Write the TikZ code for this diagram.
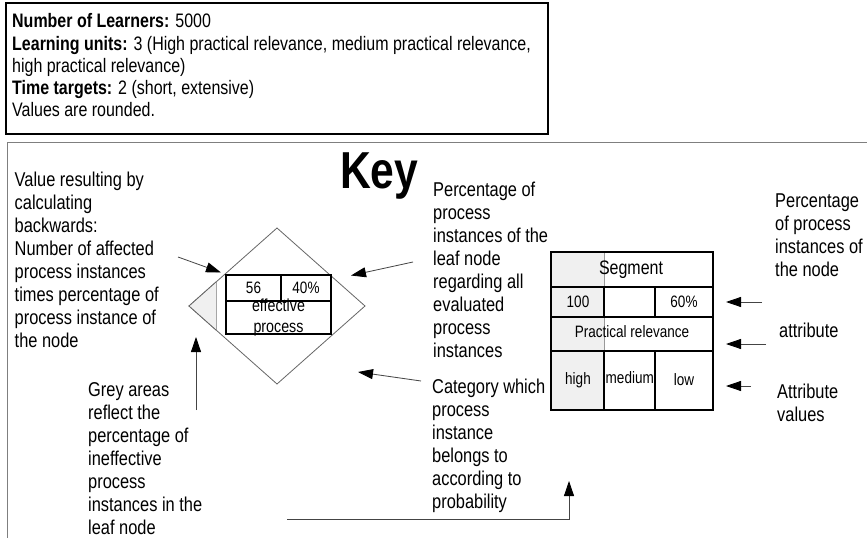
\documentclass[tikz,border=0pt]{standalone}
\usepackage{fontspec}
\setmainfont{Liberation Sans}[FakeStretch=0.82]
\usetikzlibrary{arrows.meta}

\definecolor{greyfill}{HTML}{F0F0F0}
\definecolor{frame}{HTML}{7F7F7F}
\definecolor{wire}{HTML}{444444}
\definecolor{edge}{HTML}{666666}

\tikzset{
  info/.style={anchor=north west, inner sep=0pt, align=left,
    font=\fontsize{19.5bp}{22.2bp}\selectfont},
  note/.style={anchor=north west, inner sep=0pt, align=left,
    font=\fontsize{20bp}{23bp}\selectfont},
  celltext/.style={inner sep=0pt, font=\fontsize{16.5bp}{19bp}\selectfont},
  grid/.style={draw=black, line width=1.3bp},
  thin grid/.style={draw=black!40, line width=0.6bp},
  pointer/.style={draw=wire, line width=0.8bp,
    -{Triangle[length=15bp, width=10bp, color=black]}},
}

\begin{document}
\begin{tikzpicture}[x=1bp, y=-1bp]
\useasboundingbox (0,0) rectangle (867,538);
\fill[white] (0,0) rectangle (867,538);

% ---- summary box ----
\draw[black, line width=1.6bp] (6,3) rectangle (548,134);
\node[info] (summary) at (12,13.5)
  {\textbf{Number of Learners:} 5000\\
   \textbf{Learning units:} 3 (High practical relevance, medium practical relevance,\\
   high practical relevance)\\
   \textbf{Time targets:} 2 (short, extensive)\\
   Values are rounded.};

% ---- legend frame ----
\draw[frame, line width=1bp] (867,143) -- (7,143) -- (7,538);
\node[anchor=base west, inner sep=0pt,
  font=\fontsize{52bp}{52bp}\selectfont\bfseries] (key) at (340,189) {Key};

% ---- leaf node (diamond) ----
\coordinate (dtop) at (277,228);
\coordinate (dright) at (365,306);
\coordinate (dbottom) at (277,384);
\coordinate (dleft) at (189,306);
\filldraw[fill=white, draw=edge, line width=0.8bp]
  (dtop) -- (dright) -- (dbottom) -- (dleft) -- cycle;
% grey share of ineffective instances
\fill[greyfill] (dleft) -- (216,282) -- (216,330) -- cycle;
\draw[black!35, line width=0.8bp] (216,282) -- (216,330);
\draw[edge, line width=0.8bp] (216,282) -- (dleft) -- (216,330);

% table inside the leaf node
\filldraw[fill=white, grid] (226,275) rectangle (331,334);
\draw[grid] (226,301) -- (331,301);
\draw[grid] (281,275) -- (281,301);
\node[celltext] (count) at (253.5,288) {56};
\node[celltext] (share) at (306,288) {40\%};
\node[inner sep=0pt, align=center,
  font=\fontsize{17.4bp}{21bp}\selectfont] (category) at (278.5,317.5)
  {effective\\process};

% ---- segment node (table) ----
\fill[greyfill] (551,252) rectangle (604,410);
\draw[thin grid] (604,252) -- (604,287);
\draw[thin grid] (604,317) -- (604,351);
\draw[grid] (551,252) rectangle (713,410);
\draw[grid] (551,287) -- (713,287);
\draw[grid] (551,317) -- (713,317);
\draw[grid] (551,351) -- (713,351);
\draw[grid] (604,287) -- (604,317);
\draw[grid] (655,287) -- (655,317);
\draw[grid] (604,351) -- (604,410);
\draw[grid] (655,351) -- (655,410);
\node[inner sep=0pt, font=\fontsize{19.5bp}{22bp}\selectfont] (segment) at (631,269.5) {Segment};
\node[celltext] (total) at (578,302) {100};
\node[celltext] (pct) at (684,302) {60\%};
\node[celltext] (attr) at (632,332) {Practical relevance};
\node[celltext] (vhigh) at (578,380) {high};
\node[celltext, anchor=west] (vmed) at (605.5,378) {medium};
\node[celltext] (vlow) at (684,380) {low};

% ---- explanations ----
\node[note] (backcalc) at (14.5,172)
  {Value resulting by\\ calculating\\ backwards:\\ Number of affected\\
   process instances\\ times percentage of\\ process instance of\\ the node};
\node[note] (greyinfo) at (88,382.5)
  {Grey areas\\ reflect the\\ percentage of\\ ineffective\\ process\\
   instances in the\\ leaf node};
\node[note] (leafpct) at (433,181.7)
  {Percentage of\\ process\\ instances of the\\ leaf node\\ regarding all\\
   evaluated\\ process\\ instances};
\node[note] (catinfo) at (432,378.7)
  {Category which\\ process\\ instance\\ belongs to\\ according to\\ probability};
\node[note] (nodepct) at (775,193.2)
  {Percentage\\ of process\\ instances of\\ the node};
\node[note] (attrinfo) at (779,322.7) {attribute};
\node[note] (valinfo) at (777,383.7) {Attribute\\ values};

% ---- pointers ----
\coordinate (p1s) at (178,257);  \coordinate (p1e) at (221,272.5);
\coordinate (p2s) at (413,262);  \coordinate (p2e) at (351,275.5);
\coordinate (p3s) at (421,381);  \coordinate (p3e) at (358,372);
\coordinate (p4s) at (196,410);  \coordinate (p4e) at (196,337);
\coordinate (p5s) at (287,519);  \coordinate (p5k) at (569,519);
\coordinate (p5e) at (569,481);
\coordinate (p6s) at (762,302);  \coordinate (p6e) at (726,302);
\coordinate (p7s) at (766,344);  \coordinate (p7e) at (726,344);
\coordinate (p8s) at (751,386);  \coordinate (p8e) at (726,386);

\draw[pointer] (p1s) -- (p1e);
\draw[pointer] (p2s) -- (p2e);
\draw[pointer] (p3s) -- (p3e);
\draw[pointer] (p4s) -- (p4e);
\draw[pointer] (p5s) -- (p5k) -- (p5e);
\draw[pointer] (p6s) -- (p6e);
\draw[pointer] (p7s) -- (p7e);
\draw[pointer] (p8s) -- (p8e);
\end{tikzpicture}
\end{document}
